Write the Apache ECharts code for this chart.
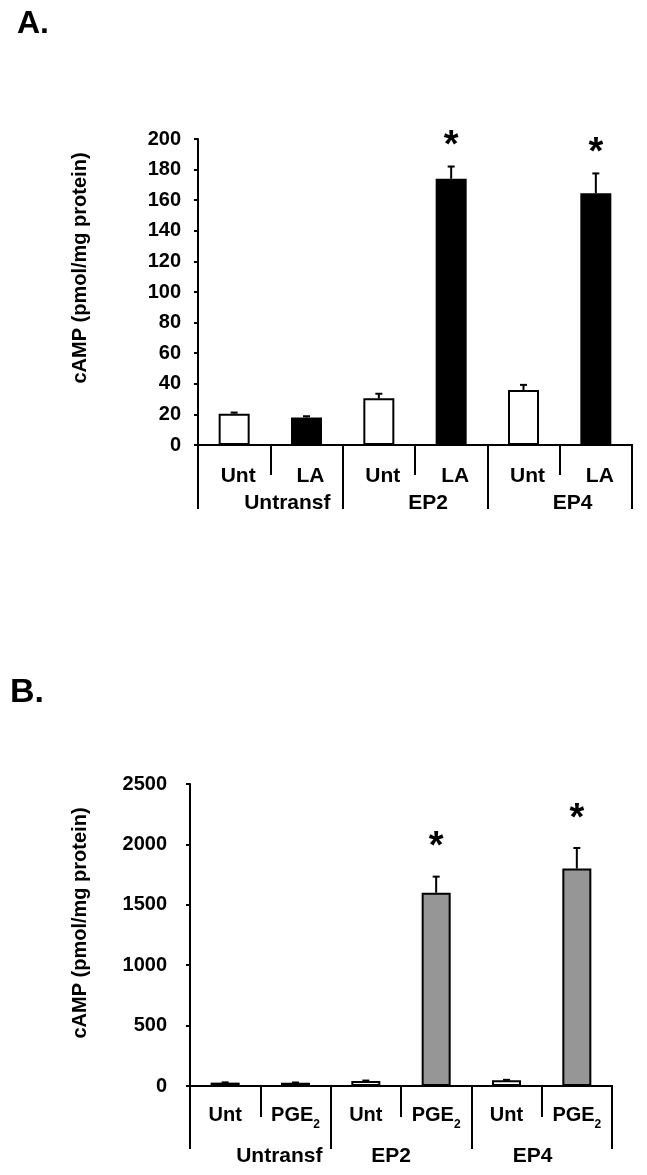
<!DOCTYPE html>
<html>
<head>
<meta charset="utf-8">
<title>cAMP</title>
<script src="https://cdn.jsdelivr.net/npm/echarts@6/dist/echarts.min.js"></script>
<style>
  html, body { margin: 0; padding: 0; background: #fff; }
  #chart { width: 647px; height: 1175px; }
</style>
</head>
<body>
<div id="chart"></div>
<script>
// treatment labels under each bar, and the cell-line groups
const treatA = ['Unt', 'LA', 'Unt', 'LA', 'Unt', 'LA']
const treatB = ['Unt', 'PGE2', 'Unt', 'PGE2', 'Unt', 'PGE2']
const groups = ['Untransf', 'EP2', 'EP4']

// panel A: LA stimulation
const meanA = [20.5, 18, 30.5, 174, 36, 164.5]
const errA = [0.7, 0.8, 3, 8, 3.3, 13]
const sigA = [0, 0, 0, 1, 0, 1]

// panel B: PGE2 stimulation
const meanB = [28, 27, 42, 1600, 48, 1800]
const errB = [2, 2, 3, 133, 3, 170]
const sigB = [0, 0, 0, 1, 0, 1]

const yTicksA = { min: 0, max: 200, interval: 20 }
const yTicksB = { min: 0, max: 2500, interval: 500 }

const FONT = "'Liberation Sans', Arial, sans-serif"
const fillA = ['#ffffff', '#000000']
const fillB = ['#ffffff', '#969696']

const chart = echarts.init(document.getElementById('chart'))

const barData = (means, fills) =>
  means.map((v, i) => ({ value: v, itemStyle: { color: fills[i % 2] } }))

const errData = (means, errs, sig) => means.map((v, i) => [i, v, errs[i], sig[i]])

// error bar (upper half only) plus star above significant bars
const errRender = (starGap) => (params, api) => {
  const x = api.value(0)
  const m = api.value(1)
  const e = api.value(2)
  const top = api.coord([x, m])
  const hi = api.coord([x, m + e])
  const kids = [
    { type: 'line', shape: { x1: top[0], y1: top[1], x2: hi[0], y2: hi[1] }, style: { stroke: '#000', lineWidth: 2 } },
    { type: 'line', shape: { x1: hi[0] - 3.5, y1: hi[1], x2: hi[0] + 3.5, y2: hi[1] }, style: { stroke: '#000', lineWidth: 2 } }
  ]
  if (api.value(3)) {
    kids.push({
      type: 'text',
      x: hi[0],
      y: hi[1] - starGap,
      style: { text: '*', fill: '#000', font: 'bold 38px ' + FONT, align: 'center', verticalAlign: 'middle' }
    })
  }
  return { type: 'group', children: kids }
}

const lineStyle = { color: '#000', width: 2 }
const labelBase = { color: '#000', fontFamily: FONT, fontWeight: 'bold', fontSize: 20 }

const groupRich = (shifts) => {
  const rich = {}
  shifts.forEach((s, i) => {
    rich['g' + i] = Object.assign({}, labelBase, {
      fontSize: 21,
      lineHeight: 20,
      padding: s >= 0 ? [0, 0, 0, 2 * s] : [0, -2 * s, 0, 0]
    })
  })
  return rich
}

const yAxis = (grid, ticks, gap, shiftUp, margin) => ({
  type: 'value',
  gridIndex: grid,
  min: ticks.min,
  max: ticks.max,
  interval: ticks.interval,
  name: 'cAMP (pmol/mg protein)',
  nameLocation: 'middle',
  nameGap: gap,
  nameRotate: 90,
  nameTextStyle: Object.assign({}, labelBase, { fontSize: 20, padding: [0, 0, 0, 2 * shiftUp] }),
  axisLine: { show: true, lineStyle },
  axisTick: { show: true, length: 4, lineStyle },
  axisLabel: Object.assign({}, labelBase, { margin, formatter: (v) => String(v) }),
  splitLine: { show: false }
})

const option = {
  animation: false,
  backgroundColor: '#fff',
  textStyle: { fontFamily: FONT },
  graphic: [
    { type: 'text', left: 17, top: 8, style: { text: 'A.', font: 'bold 32px ' + FONT, fill: '#000' } },
    { type: 'text', left: 10, top: 676, style: { text: 'B.', font: 'bold 34px ' + FONT, fill: '#000' } }
  ],
  grid: [
    { left: 198, top: 139, width: 434, height: 306 },
    { left: 190, top: 784, width: 422, height: 302 }
  ],
  xAxis: [
    {
      type: 'category', gridIndex: 0, data: treatA, position: 'bottom',
      axisLine: { show: true, lineStyle },
      axisTick: { show: true, length: 30, interval: 0, lineStyle },
      axisLabel: Object.assign({}, labelBase, { fontSize: 21, interval: 0, margin: 21, lineHeight: 20, padding: [0, 0, 0, 8] })
    },
    {
      type: 'category', gridIndex: 0, data: groups, position: 'bottom', offset: 0,
      axisLine: { show: true, lineStyle },
      axisTick: { show: true, length: 64, interval: 0, lineStyle },
      axisLabel: {
        interval: 0, margin: 48,
        formatter: (v, i) => '{g' + i + '|' + v + '}',
        rich: groupRich([17, 13, 13])
      }
    },
    {
      type: 'category', gridIndex: 1, data: treatB, position: 'bottom',
      axisLine: { show: true, lineStyle },
      axisTick: { show: true, length: 31, interval: 0, lineStyle },
      axisLabel: {
        interval: 0, margin: 19,
        formatter: (v) => v === 'PGE2' ? '{m|PGE}{s|2}' : '{m|' + v + '}',
        rich: {
          m: Object.assign({}, labelBase, { fontSize: 20, lineHeight: 26, verticalAlign: 'top' }),
          s: Object.assign({}, labelBase, { fontSize: 12, lineHeight: 12, verticalAlign: 'bottom' })
        }
      }
    },
    {
      type: 'category', gridIndex: 1, data: groups, position: 'bottom', offset: 0,
      axisLine: { show: true, lineStyle },
      axisTick: { show: true, length: 63, interval: 0, lineStyle },
      axisLabel: {
        interval: 0, margin: 60,
        formatter: (v, i) => '{g' + i + '|' + v + '}',
        rich: groupRich([19, -10, -9])
      }
    }
  ],
  yAxis: [
    yAxis(0, yTicksA, 108, 24, 17),
    yAxis(1, yTicksB, 100, 12, 23)
  ],
  series: [
    {
      type: 'bar', xAxisIndex: 0, yAxisIndex: 0, barWidth: 31,
      itemStyle: { borderColor: '#000', borderWidth: 2 },
      data: barData(meanA, fillA)
    },
    {
      type: 'custom', xAxisIndex: 0, yAxisIndex: 0, z: 5,
      renderItem: errRender(20),
      encode: { x: 0, y: 1 },
      data: errData(meanA, errA, sigA)
    },
    {
      type: 'bar', xAxisIndex: 2, yAxisIndex: 1, barWidth: 29,
      itemStyle: { borderColor: '#000', borderWidth: 2 },
      data: barData(meanB, fillB)
    },
    {
      type: 'custom', xAxisIndex: 2, yAxisIndex: 1, z: 5,
      renderItem: errRender(29),
      encode: { x: 0, y: 1 },
      data: errData(meanB, errB, sigB)
    }
  ]
}

chart.setOption(option)
</script>
</body>
</html>
